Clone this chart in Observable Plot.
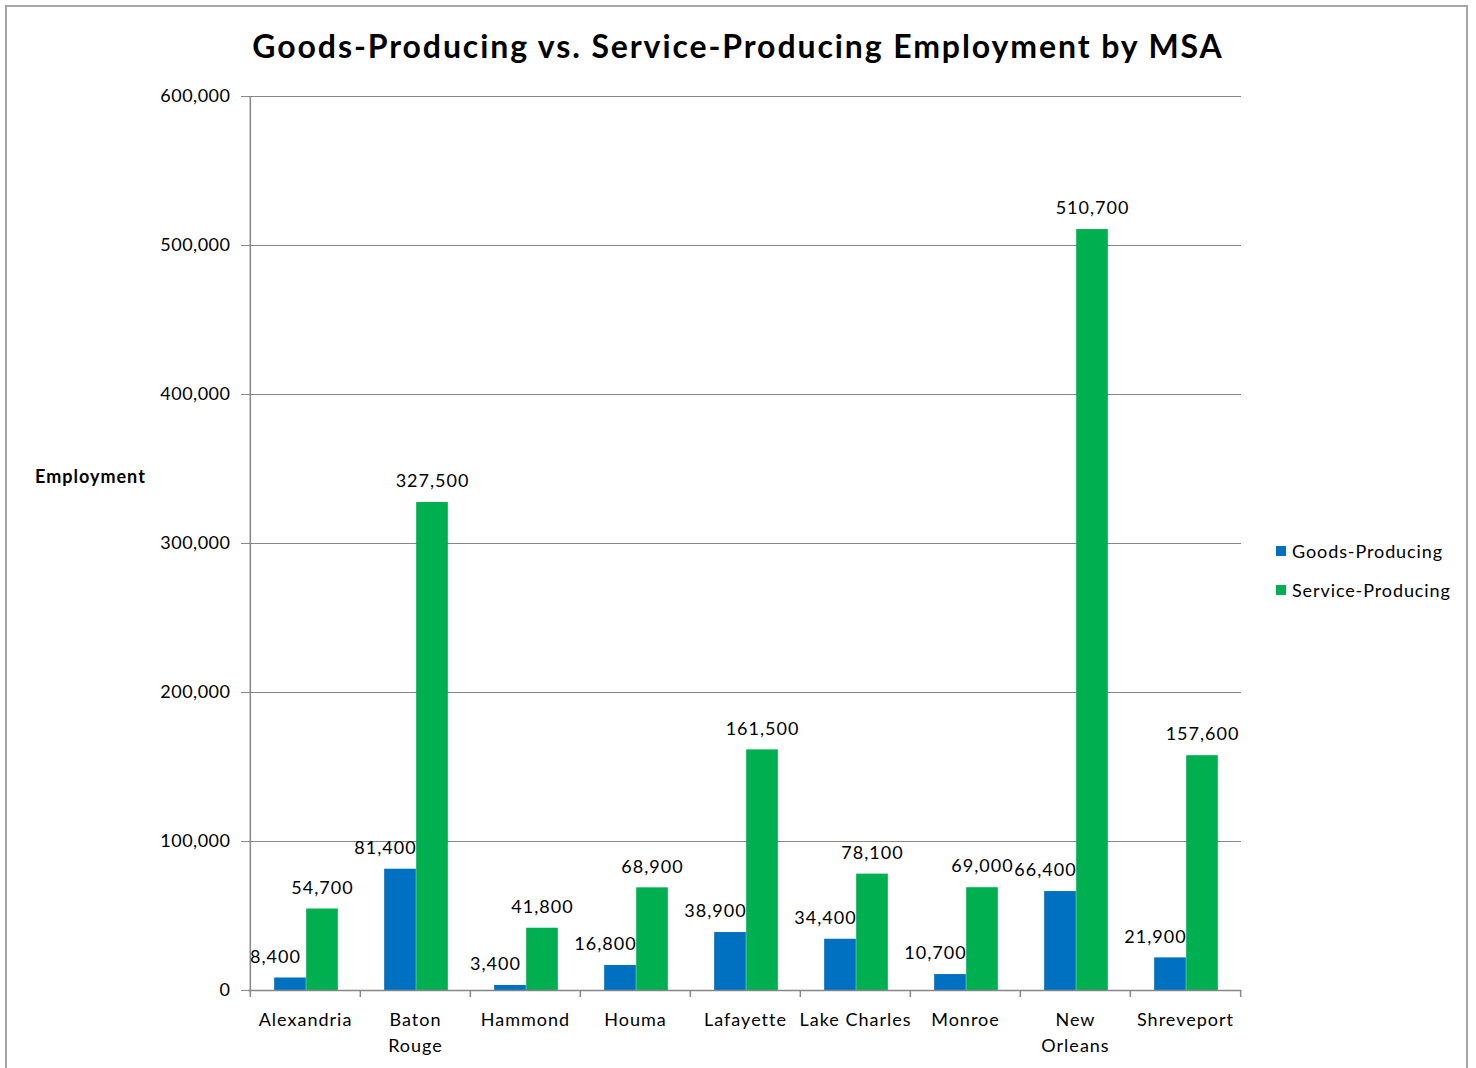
<!DOCTYPE html>
<html>
<head>
<meta charset="utf-8">
<script src="https://cdn.jsdelivr.net/npm/d3@7"></script>
<script src="https://cdn.jsdelivr.net/npm/@observablehq/plot@0.6"></script>
<style>
  html, body { margin: 0; padding: 0; background: #fff; }
  body { width: 1476px; height: 1068px; overflow: hidden; font-family: Lato, "Open Sans", sans-serif; }
  #wrap { position: relative; width: 1476px; height: 1068px; }
  #border { position: absolute; left: 5px; top: 5px; width: 1463px; height: 1080px; border: 2px solid #a6a6a6; box-sizing: border-box; }
  #title { position: absolute; top: 26px; left: 0; width: 1476px; text-align: center; font-weight: bold; font-size: 32px; color: #000; letter-spacing: 1.9px; }
  #ylabel { position: absolute; left: 35px; top: 465px; font-weight: bold; font-size: 18px; letter-spacing: 1px; color: #000; }
  #legend { position: absolute; left: 1276px; top: 540px; font-size: 18px; letter-spacing: 0.9px; color: #000; }
  .li { display: flex; align-items: center; height: 22px; margin-bottom: 17px; }
  .sw { width: 10px; height: 10px; margin-right: 6px; }
  #chart { position: absolute; left: 0; top: 70px; }
  #chart svg text { letter-spacing: 1px; }
  #chart svg g[aria-label="y-axis tick label"] text { letter-spacing: 0.5px; }
</style>
</head>
<body>
<div id="wrap">
  <div id="border"></div>
  <div id="title">Goods-Producing vs. Service-Producing Employment by MSA</div>
  <div id="ylabel">Employment</div>
  <div id="legend"></div>
  <div id="chart"></div>
</div>
<script>
const cities = ["Alexandria", "Baton Rouge", "Hammond", "Houma", "Lafayette", "Lake Charles", "Monroe", "New Orleans", "Shreveport"];
const cityLabels = ["Alexandria", "Baton\nRouge", "Hammond", "Houma", "Lafayette", "Lake Charles", "Monroe", "New\nOrleans", "Shreveport"];
const goods = [8400, 81400, 3400, 16800, 38900, 34400, 10700, 66400, 21900];
const service = [54700, 327500, 41800, 68900, 161500, 78100, 69000, 510700, 157600];
const seriesNames = ["Goods-Producing", "Service-Producing"];
const seriesColors = ["#0070C0", "#00B050"];
const yTicks = [0, 100000, 200000, 300000, 400000, 500000, 600000];

const goodsData = cities.map((c, i) => ({city: c, value: goods[i]}));
const serviceData = cities.map((c, i) => ({city: c, value: service[i]}));

const W = 1476, H = 998;
const mL = 248, mR = 1476 - 1241, mT = 26, mB = 78;
const step = (W - mL - mR) / cities.length;
const barW = 32;
const inset = (step - barW) / 2;
const fmt = d3.format(",");
const labelMap = new Map(cities.map((c, i) => [c, cityLabels[i]]));
const font = "Lato, 'Open Sans', sans-serif";

const chart = Plot.plot({
  width: W,
  height: H,
  marginLeft: mL,
  marginRight: mR,
  marginTop: mT,
  marginBottom: mB,
  style: {fontFamily: font, fontSize: "18px", color: "#000", background: "transparent"},
  x: {domain: cities, padding: 0},
  y: {domain: [0, 600000]},
  marks: [
    Plot.gridY(yTicks, {stroke: "#868686", strokeOpacity: 1, strokeWidth: 1}),
    Plot.barY(goodsData, {x: "city", y: "value", fill: seriesColors[0], insetLeft: inset, insetRight: inset, dx: -15}),
    Plot.barY(serviceData, {x: "city", y: "value", fill: seriesColors[1], insetLeft: inset, insetRight: inset, dx: 17}),
    Plot.text(goodsData, {x: "city", y: "value", text: d => fmt(d.value), dx: -30, dy: -21, fill: "#000", fontSize: 18}),
    Plot.text(serviceData, {x: "city", y: "value", text: d => fmt(d.value), dx: 17, dy: -21, fill: "#000", fontSize: 18}),
    Plot.ruleY([0], {stroke: "#868686", strokeWidth: 1.5}),
    Plot.ruleX([cities[0]], {y1: 0, y2: 600000, dx: -step / 2, stroke: "#868686", strokeWidth: 1.5}),
    Plot.ruleX(cities, {x: d => d, y1: 0, y2: 0, insetBottom: -7, dx: -step / 2, stroke: "#868686", strokeWidth: 1.5}),
    Plot.ruleX([cities[cities.length - 1]], {y1: 0, y2: 0, insetBottom: -7, dx: step / 2, stroke: "#868686", strokeWidth: 1.5}),
    Plot.axisY({ticks: yTicks, tickFormat: d => fmt(d), tickSize: 7, tickPadding: 11, stroke: "#868686", fill: "#000", fontSize: 18, label: null}),
    Plot.axisX({tickSize: 0, tickPadding: 17, tickFormat: d => labelMap.get(d), fill: "#000", fontSize: 18, lineHeight: 1.45, label: null})
  ]
});
document.getElementById("chart").appendChild(chart);

const legend = document.getElementById("legend");
seriesNames.forEach((n, i) => {
  const row = document.createElement("div");
  row.className = "li";
  const sw = document.createElement("div");
  sw.className = "sw";
  sw.style.background = seriesColors[i];
  const t = document.createElement("span");
  t.textContent = n;
  row.appendChild(sw);
  row.appendChild(t);
  legend.appendChild(row);
});
</script>
</body>
</html>
